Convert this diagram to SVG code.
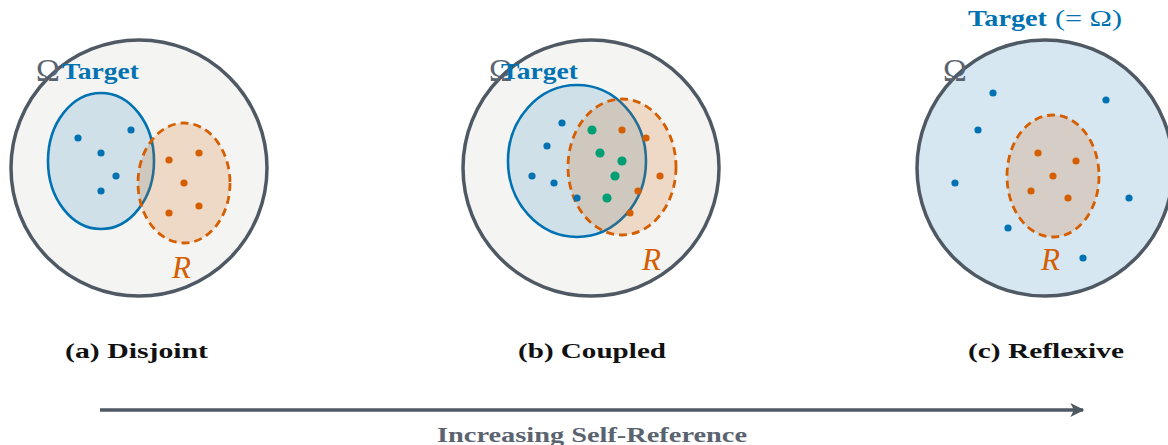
<svg xmlns="http://www.w3.org/2000/svg" width="1168" height="445" viewBox="0 0 1168 445">
<style>
.univ{fill:#f4f4f3;stroke:#4f5964;stroke-width:3.5}
.univc{fill:#d7e7f2;stroke:#4f5964;stroke-width:3.5}
.tgt{fill:#0072b2;fill-opacity:0.15;stroke:#0072b2;stroke-width:2.6}
.rset{fill:#d55e00;fill-opacity:0.18;stroke:#d55e00;stroke-width:2.8;stroke-dasharray:8 5}
.bd{fill:#0072b2}
.od{fill:#d55e00}
.gd{fill:#009e73}
.omega{font-family:"Liberation Serif",serif;font-size:32px;fill:#5a6470}
.tlab{font-family:"Liberation Serif",serif;font-weight:bold;font-size:23px;fill:#0072b2}
.rlab{font-family:"Liberation Serif",serif;font-style:italic;font-size:31px;fill:#d55e00}
.cap{font-family:"Liberation Serif",serif;font-weight:bold;font-size:20px;fill:#111}
.axis{font-family:"Liberation Serif",serif;font-weight:bold;font-size:21px;fill:#5a6470}
</style>
<defs>
<marker id="ah" viewBox="0 0 10 10" refX="9" refY="5" markerWidth="5" markerHeight="4" orient="auto" markerUnits="strokeWidth">
<path d="M0,0 L10,5 L0,10 L2.5,5 Z" fill="#4f5964"/>
</marker>
</defs>

<g id="panel-a">
<circle class="univ" cx="139" cy="168" r="128"/>
<ellipse class="tgt" cx="101" cy="161" rx="53" ry="68"/>
<ellipse class="rset" cx="184" cy="183" rx="46" ry="60"/>
<g class="bd">
<circle cx="78" cy="138" r="3.6"/><circle cx="131" cy="130" r="3.6"/><circle cx="101" cy="153" r="3.6"/><circle cx="116" cy="176" r="3.6"/><circle cx="101" cy="191" r="3.6"/>
</g>
<g class="od">
<circle cx="169" cy="160" r="3.6"/><circle cx="199" cy="153" r="3.6"/><circle cx="184" cy="183" r="3.6"/><circle cx="169" cy="213" r="3.6"/><circle cx="199" cy="206" r="3.6"/>
</g>
<text class="omega" x="36" y="81">Ω</text>
<text class="tlab" x="62" y="79" textLength="77" lengthAdjust="spacingAndGlyphs">Target</text>
<text class="rlab" x="172" y="278">R</text>
<text class="cap" x="65" y="358" textLength="143" lengthAdjust="spacingAndGlyphs">(a) Disjoint</text>
</g>

<g id="panel-b">
<circle class="univ" cx="591" cy="168" r="128"/>
<ellipse class="tgt" cx="577" cy="161" rx="69" ry="76"/>
<ellipse class="rset" cx="622" cy="167" rx="54" ry="68"/>
<g class="bd">
<circle cx="562" cy="123" r="3.6"/><circle cx="547" cy="146" r="3.6"/><circle cx="532" cy="176" r="3.6"/><circle cx="554" cy="183" r="3.6"/><circle cx="577" cy="198" r="3.6"/>
</g>
<g class="gd">
<circle cx="592" cy="130" r="4.6"/><circle cx="600" cy="153" r="4.6"/><circle cx="622" cy="161" r="4.6"/><circle cx="615" cy="176" r="4.6"/><circle cx="607" cy="198" r="4.6"/>
</g>
<g class="od">
<circle cx="622" cy="130" r="3.6"/><circle cx="646" cy="138" r="3.6"/><circle cx="660" cy="176" r="3.6"/><circle cx="638" cy="191" r="3.6"/><circle cx="630" cy="213" r="3.6"/>
</g>
<text class="omega" x="489" y="81">Ω</text>
<text class="tlab" x="501" y="79" textLength="77" lengthAdjust="spacingAndGlyphs">Target</text>
<text class="rlab" x="642" y="270">R</text>
<text class="cap" x="518" y="358" textLength="148" lengthAdjust="spacingAndGlyphs">(b) Coupled</text>
</g>

<g id="panel-c">
<circle class="univc" cx="1045" cy="168" r="128"/>
<ellipse class="rset" cx="1053" cy="176" rx="46" ry="61"/>
<g class="bd">
<circle cx="993" cy="93" r="3.6"/><circle cx="1106" cy="100" r="3.6"/><circle cx="978" cy="130" r="3.6"/><circle cx="955" cy="183" r="3.6"/><circle cx="1129" cy="198" r="3.6"/><circle cx="1008" cy="228" r="3.6"/><circle cx="1083" cy="258" r="3.6"/>
</g>
<g class="od">
<circle cx="1038" cy="153" r="3.6"/><circle cx="1076" cy="161" r="3.6"/><circle cx="1053" cy="176" r="3.6"/><circle cx="1031" cy="191" r="3.6"/><circle cx="1068" cy="198" r="3.6"/>
</g>
<text class="omega" x="943" y="81">Ω</text>
<text class="tlab" x="968" y="26"><tspan textLength="79" lengthAdjust="spacingAndGlyphs">Target</tspan><tspan x="1055" font-weight="normal" textLength="67" lengthAdjust="spacingAndGlyphs">(= Ω)</tspan></text>
<text class="rlab" x="1041" y="270">R</text>
<text class="cap" x="968" y="358" textLength="156" lengthAdjust="spacingAndGlyphs">(c) Reflexive</text>
</g>

<g id="connectors">
<line x1="100" y1="410" x2="1083" y2="410" stroke="#4f5964" stroke-width="3.5" marker-end="url(#ah)"/>
<text class="axis" x="592" y="442" text-anchor="middle" textLength="310" lengthAdjust="spacingAndGlyphs">Increasing Self-Reference</text>
</g>
</svg>
